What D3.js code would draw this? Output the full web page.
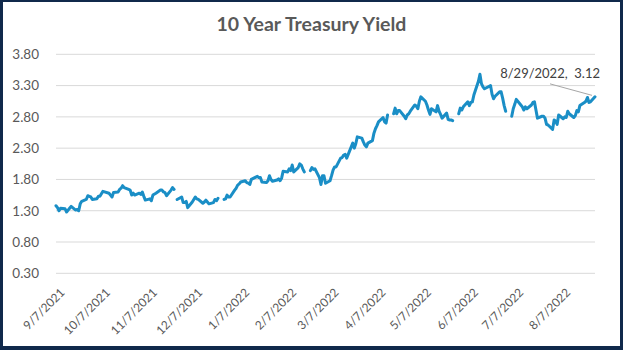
<!DOCTYPE html>
<html>
<head>
<meta charset="utf-8">
<script src="https://cdn.jsdelivr.net/npm/d3@7"></script>
<style>
  body { margin: 0; background: #fff; }
  svg { display: block; }
</style>
</head>
<body>
<svg id="chart" width="623" height="350"></svg>
<script>
// Daily 10-year Treasury yield (%). A null marks a market holiday, drawn as a break in the line.
const dates = [
  "9/7/2021","9/8/2021","9/9/2021","9/10/2021","9/13/2021","9/14/2021","9/15/2021","9/16/2021","9/17/2021",
  "9/20/2021","9/21/2021","9/22/2021","9/23/2021","9/24/2021","9/27/2021","9/28/2021","9/29/2021","9/30/2021",
  "10/1/2021","10/4/2021","10/5/2021","10/6/2021","10/7/2021","10/8/2021","10/12/2021","10/13/2021","10/14/2021",
  "10/15/2021","10/18/2021","10/19/2021","10/20/2021","10/21/2021","10/22/2021","10/25/2021","10/26/2021",
  "10/27/2021","10/28/2021","10/29/2021",
  "11/1/2021","11/2/2021","11/3/2021","11/4/2021","11/5/2021","11/8/2021","11/9/2021","11/10/2021","11/12/2021",
  "11/15/2021","11/16/2021","11/17/2021","11/18/2021","11/19/2021","11/22/2021","11/23/2021","11/24/2021",
  "11/25/2021","11/26/2021","11/29/2021","11/30/2021",
  "12/1/2021","12/2/2021","12/3/2021","12/6/2021","12/7/2021","12/8/2021","12/9/2021","12/10/2021","12/13/2021",
  "12/14/2021","12/15/2021","12/16/2021","12/17/2021","12/20/2021","12/21/2021","12/22/2021","12/23/2021",
  "12/24/2021","12/27/2021","12/28/2021","12/29/2021","12/30/2021","12/31/2021",
  "1/3/2022","1/4/2022","1/5/2022","1/6/2022","1/7/2022","1/10/2022","1/11/2022","1/12/2022","1/13/2022",
  "1/14/2022","1/18/2022","1/19/2022","1/20/2022","1/21/2022","1/24/2022","1/25/2022","1/26/2022","1/27/2022",
  "1/28/2022","1/31/2022",
  "2/1/2022","2/2/2022","2/3/2022","2/4/2022","2/7/2022","2/8/2022","2/9/2022","2/10/2022","2/11/2022",
  "2/14/2022","2/15/2022","2/16/2022","2/17/2022","2/18/2022","2/21/2022","2/22/2022","2/23/2022","2/24/2022",
  "2/25/2022","2/28/2022",
  "3/1/2022","3/2/2022","3/3/2022","3/4/2022","3/7/2022","3/8/2022","3/9/2022","3/10/2022","3/11/2022",
  "3/14/2022","3/15/2022","3/16/2022","3/17/2022","3/18/2022","3/21/2022","3/22/2022","3/23/2022","3/24/2022",
  "3/25/2022","3/28/2022","3/29/2022","3/30/2022","3/31/2022",
  "4/1/2022","4/4/2022","4/5/2022","4/6/2022","4/7/2022","4/8/2022","4/11/2022","4/12/2022","4/13/2022",
  "4/14/2022","4/15/2022","4/18/2022","4/19/2022","4/20/2022","4/21/2022","4/22/2022","4/25/2022","4/26/2022",
  "4/27/2022","4/28/2022","4/29/2022",
  "5/2/2022","5/3/2022","5/4/2022","5/5/2022","5/6/2022","5/9/2022","5/10/2022","5/11/2022","5/12/2022",
  "5/13/2022","5/16/2022","5/17/2022","5/18/2022","5/19/2022","5/20/2022","5/23/2022","5/24/2022","5/25/2022",
  "5/26/2022","5/27/2022","5/30/2022","5/31/2022",
  "6/1/2022","6/2/2022","6/3/2022","6/6/2022","6/7/2022","6/8/2022","6/9/2022","6/10/2022","6/13/2022",
  "6/14/2022","6/15/2022","6/16/2022","6/17/2022","6/21/2022","6/22/2022","6/23/2022","6/24/2022","6/27/2022",
  "6/28/2022","6/29/2022","6/30/2022",
  "7/1/2022","7/4/2022","7/5/2022","7/6/2022","7/7/2022","7/8/2022","7/11/2022","7/12/2022","7/13/2022",
  "7/14/2022","7/15/2022","7/18/2022","7/19/2022","7/20/2022","7/21/2022","7/22/2022","7/25/2022","7/26/2022",
  "7/27/2022","7/28/2022","7/29/2022",
  "8/1/2022","8/2/2022","8/3/2022","8/4/2022","8/5/2022","8/8/2022","8/9/2022","8/10/2022","8/11/2022",
  "8/12/2022","8/15/2022","8/16/2022","8/17/2022","8/18/2022","8/19/2022","8/22/2022","8/23/2022","8/24/2022",
  "8/25/2022","8/26/2022","8/29/2022"
];

const yields = [
  1.38,1.35,1.30,1.34,1.33,1.28,1.31,1.34,1.37,
  1.31,1.32,1.30,1.41,1.45,1.48,1.54,1.53,1.52,
  1.48,1.49,1.53,1.53,1.57,1.61,1.58,1.55,1.52,
  1.59,1.60,1.64,1.66,1.70,1.67,1.64,1.63,
  1.55,1.58,1.55,
  1.58,1.56,1.60,1.53,1.47,1.49,1.46,1.55,1.58,
  1.63,1.63,1.60,1.59,1.54,1.63,1.67,1.64,
  null,1.48,1.52,1.43,
  1.43,1.45,1.35,1.44,1.48,1.52,1.49,1.48,1.42,
  1.44,1.47,1.44,1.41,1.43,1.48,1.46,1.50,
  null,1.48,1.49,1.55,1.52,1.52,
  1.63,1.66,1.71,1.73,1.76,1.78,1.75,1.74,1.72,
  1.80,1.85,1.83,1.83,1.76,1.75,1.78,1.86,1.80,
  1.77,1.79,
  1.81,1.78,1.82,1.93,1.92,1.97,1.94,2.03,1.92,
  1.99,2.05,2.03,1.97,1.92,null,1.94,1.99,1.96,
  1.97,1.83,
  1.72,1.86,1.86,1.74,1.78,1.86,1.95,2.00,2.00,
  2.14,2.15,2.19,2.20,2.14,2.32,2.38,2.30,2.37,
  2.48,2.46,2.40,2.35,2.32,
  2.38,2.42,2.54,2.61,2.66,2.72,2.79,2.72,2.70,
  2.83,null,2.85,2.94,2.85,2.90,2.90,2.81,2.77,
  2.83,2.85,2.89,
  2.99,2.97,2.93,3.05,3.12,3.05,2.99,2.91,2.84,
  2.93,2.88,2.98,2.89,2.84,2.78,2.86,2.76,2.75,
  2.75,2.74,null,2.85,
  2.94,2.91,2.96,3.04,2.98,3.03,3.04,3.15,3.37,
  3.48,3.33,3.28,3.25,3.30,3.16,3.09,3.13,3.20,
  3.20,3.10,2.98,
  2.89,null,2.81,2.93,3.00,3.08,2.99,2.96,2.91,
  2.96,2.93,2.99,3.03,3.04,2.91,2.78,2.81,2.81,
  2.78,2.68,2.67,
  2.60,2.75,2.73,2.68,2.83,2.77,2.80,2.79,2.89,
  2.85,2.79,2.82,2.90,2.88,2.98,3.03,3.05,3.11,
  3.03,3.04,3.12
];

const yTicks = [0.30, 0.80, 1.30, 1.80, 2.30, 2.80, 3.30, 3.80];
const xTickLabels = ["9/7/2021","10/7/2021","11/7/2021","12/7/2021","1/7/2022","2/7/2022",
                     "3/7/2022","4/7/2022","5/7/2022","6/7/2022","7/7/2022","8/7/2022"];
const chartTitle = "10 Year Treasury Yield";

const parse = d3.timeParse("%m/%d/%Y");
const fmtDate = d3.timeFormat("%-m/%-d/%Y");
const fmtVal = d3.format(".2f");

const points = dates.map((d, i) => ({ date: parse(d), value: yields[i] }));
const xTicks = xTickLabels.map(parse);

const W = 623, H = 350;
const plot = { left: 56, right: 595, top: 54.3, bottom: 273.3 };

const svg = d3.select("#chart");
const font = "Lato, 'Open Sans', sans-serif";

// navy frame around a white panel
svg.append("rect").attr("width", W).attr("height", H).attr("fill", "#10294b");
svg.append("rect").attr("x", 3).attr("y", 2).attr("width", W - 6).attr("height", H - 6).attr("fill", "#ffffff");

const x = d3.scaleTime()
  .domain([points[0].date, points[points.length - 1].date])
  .range([plot.left, plot.right]);
const y = d3.scaleLinear()
  .domain([yTicks[0], yTicks[yTicks.length - 1]])
  .range([plot.bottom, plot.top]);

// title
svg.append("text")
  .attr("x", 311.5).attr("y", 31)
  .attr("text-anchor", "middle")
  .attr("font-family", font).attr("font-weight", "bold").attr("font-size", 19.5)
  .attr("fill", "#595959")
  .text(chartTitle);

// horizontal gridlines
svg.append("g").selectAll("line").data(yTicks).join("line")
  .attr("x1", plot.left).attr("x2", plot.right)
  .attr("y1", d => y(d)).attr("y2", d => y(d))
  .attr("stroke", "#d9d9d9").attr("stroke-width", 1);

// y axis labels
const yAxis = svg.append("g")
  .attr("transform", `translate(${plot.left},0)`)
  .call(d3.axisLeft(y).tickValues(yTicks).tickFormat(fmtVal).tickSize(0).tickPadding(17));
yAxis.select(".domain").remove();
yAxis.selectAll("text")
  .attr("font-family", font).attr("font-size", 13.5).attr("fill", "#595959");

// x axis labels, rotated
const xAxis = svg.append("g")
  .attr("transform", `translate(0,${plot.bottom})`)
  .call(d3.axisBottom(x).tickValues(xTicks).tickFormat(fmtDate).tickSize(0));
xAxis.select(".domain").remove();
xAxis.selectAll("text")
  .attr("font-family", font).attr("font-size", 12).attr("fill", "#595959")
  .attr("text-anchor", "end")
  .attr("x", 0).attr("y", 0).attr("dy", 0)
  .attr("transform", "translate(9,20) rotate(-45)");

// yield line, broken at holidays
const line = d3.line()
  .defined(d => d.value !== null)
  .x(d => x(d.date))
  .y(d => y(d.value));
svg.append("path")
  .datum(points)
  .attr("d", line)
  .attr("fill", "none")
  .attr("stroke", "#1a8ec6")
  .attr("stroke-width", 3)
  .attr("stroke-linejoin", "round")
  .attr("stroke-linecap", "round");

// data label on the last point with its leader line
const last = points[points.length - 1];
const lx = x(last.date), ly = y(last.value);
svg.append("line")
  .attr("x1", lx - 45).attr("y1", ly - 13)
  .attr("x2", lx - 3).attr("y2", ly - 1.5)
  .attr("stroke", "#a6a6a6").attr("stroke-width", 1);
svg.append("text")
  .attr("x", lx + 5).attr("y", ly - 19)
  .attr("text-anchor", "end")
  .attr("font-family", font).attr("font-size", 13).attr("fill", "#404040")
  .style("white-space", "pre")
  .text(`${fmtDate(last.date)},  ${fmtVal(last.value)}`);
</script>
</body>
</html>
